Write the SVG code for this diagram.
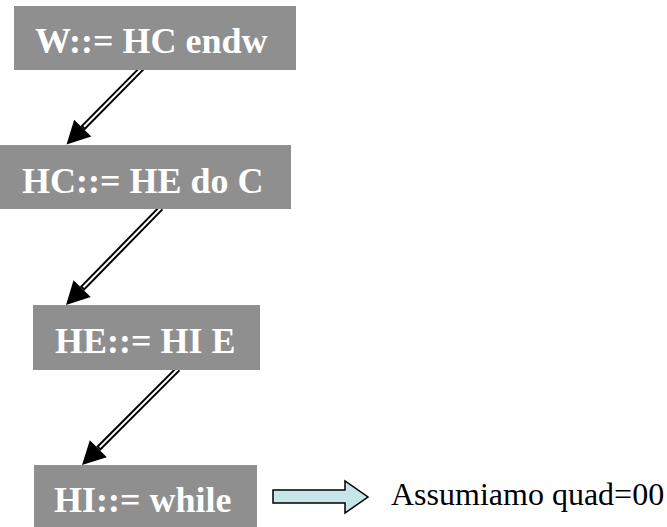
<svg xmlns="http://www.w3.org/2000/svg" width="667" height="527" viewBox="0 0 667 527">
  <style>
    .box { fill: #8f8f8f; }
    .lbl { font-family: "Liberation Serif", "Times New Roman", serif; font-weight: bold; font-size: 36px; fill: #ffffff; }
    .note { font-family: "Liberation Serif", "Times New Roman", serif; font-size: 32px; fill: #000000; }
    .shaft { stroke: #000000; stroke-width: 6; fill: none; }
    .gap { stroke: #ffffff; stroke-width: 2; fill: none; }
    .block { fill: #c5e5e9; stroke: #000000; stroke-width: 1.5; stroke-linejoin: miter; }
  </style>
  <defs>
    <marker id="head" markerUnits="userSpaceOnUse" markerWidth="26" markerHeight="26" viewBox="0 -13 24 26" refX="0" refY="0" orient="auto">
      <path d="M0,-12 L23,0 L0,12 Z" fill="#000000"/>
    </marker>
  </defs>
  <rect width="667" height="527" fill="#ffffff"/>

  <g id="connectors">
    <line class="shaft" x1="147" y1="63" x2="82.7" y2="128.1" marker-end="url(#head)"/>
    <line class="gap" x1="147" y1="63" x2="84" y2="126.8"/>
    <line class="shaft" x1="161" y1="208" x2="82.1" y2="288.6" marker-end="url(#head)"/>
    <line class="gap" x1="161" y1="208" x2="83.4" y2="287.3"/>
    <line class="shaft" x1="178" y1="369" x2="98.3" y2="448.7" marker-end="url(#head)"/>
    <line class="gap" x1="178" y1="369" x2="99.6" y2="447.4"/>
  </g>

  <g id="w">
    <rect class="box" x="14" y="6" width="282" height="64"/>
    <text class="lbl" x="35" y="53">W::= HC endw</text>
  </g>
  <g id="hc">
    <rect class="box" x="0" y="145" width="291" height="64"/>
    <text class="lbl" x="22" y="193">HC::= HE do C</text>
  </g>
  <g id="he">
    <rect class="box" x="33" y="305" width="227" height="65"/>
    <text class="lbl" x="55" y="353">HE::= HI E</text>
  </g>
  <g id="hi">
    <rect class="box" x="34" y="465" width="223" height="62"/>
    <text class="lbl" x="54" y="512">HI::= while</text>
  </g>

  <g id="note">
    <polygon class="block" points="273,490 345,490 345,481 368,497 345,513 345,503 273,503"/>
    <text class="note" x="391" y="505">Assumiamo quad=00</text>
  </g>
</svg>
